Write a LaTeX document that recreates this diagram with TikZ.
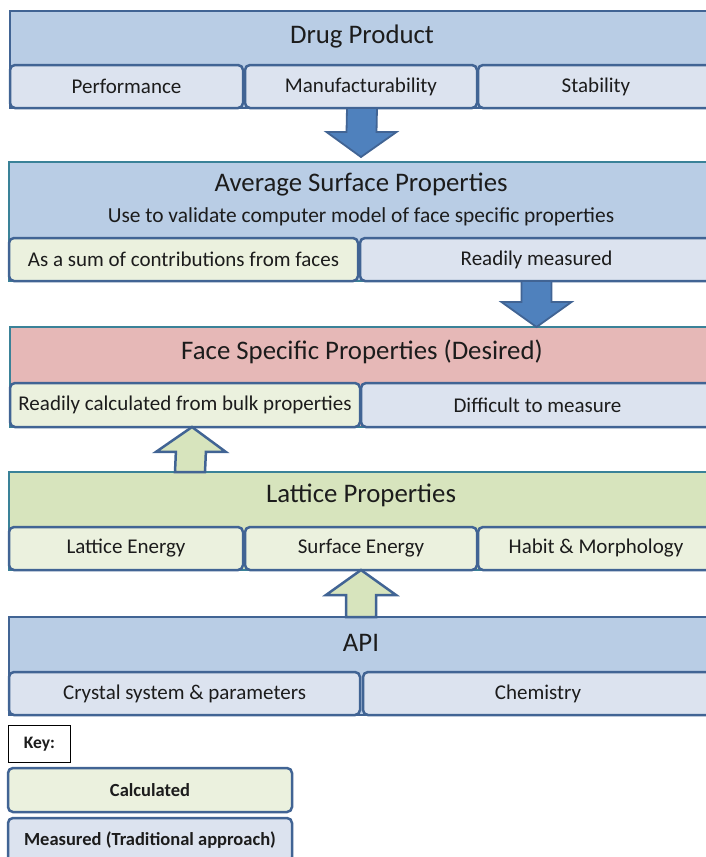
\documentclass[tikz,border=0pt]{standalone}
\usepackage{fontspec}
\setmainfont{Carlito}
\usetikzlibrary{positioning,calc}

\definecolor{hdblue}{RGB}{185,205,229}
\definecolor{subblue}{RGB}{220,227,239}
\definecolor{hdgreen}{RGB}{215,228,189}
\definecolor{subgreen}{RGB}{235,241,222}
\definecolor{hdpink}{RGB}{230,184,183}
\definecolor{edgeblue}{RGB}{65,100,148}
\definecolor{edgeteal}{RGB}{58,130,152}
\definecolor{arrowblue}{RGB}{79,129,189}
\definecolor{ink}{RGB}{28,28,28}

\tikzstyle{block}=[draw=edgeteal,line width=2pt,minimum width=704pt,anchor=north west,inner sep=0pt,outer sep=0pt]
\tikzstyle{sub}=[draw=edgeblue,line width=2.5pt,rounded corners=5pt,minimum height=43pt,inner sep=0pt,outer sep=0pt,text=ink,font=\fontsize{21}{24}\selectfont]
\tikzstyle{calcbox}=[sub,fill=subgreen]
\tikzstyle{measbox}=[sub,fill=subblue]
\tikzstyle{title}=[text=ink,font=\fontsize{26.8}{30}\selectfont]
\tikzstyle{keytext}=[font=\bfseries\fontsize{18.5}{22}\selectfont]
\tikzstyle{down}=[draw=edgeblue,fill=arrowblue,line width=1.8pt,line join=miter]
\tikzstyle{up}=[draw=edgeblue,fill=hdgreen,line width=2.5pt,line join=miter]

% fat block arrow: style, base, tip
\newcommand{\fatarrow}[3]{%
  \path (#2) coordinate (fa-b) (#3) coordinate (fa-t) ($(fa-t)!25pt!(fa-b)$) coordinate (fa-h);
  \draw[#1] ($(fa-b)+(-15,0)$) -- ($(fa-h)+(-15,0)$) -- ($(fa-h)+(-35,0)$) -- (fa-t)
    -- ($(fa-h)+(35,0)$) -- ($(fa-h)+(15,0)$) -- ($(fa-b)+(15,0)$) -- cycle;}

\begin{document}
\begin{tikzpicture}[x=1pt,y=-1pt]
\path[use as bounding box,clip] (0,0) rectangle (706,857);

% drug product
\node[block,draw=edgeblue,fill=hdblue,minimum height=97pt] (dp) at (10,11) {};
\node[title] (dpt) at ($(dp.north)+(0,25)$) {Drug Product};
\node[measbox,minimum width=233pt,anchor=south west] (perf) at (dp.south west) {Performance};
\node[measbox,minimum width=232pt,right=2pt of perf] (manu) {Manufacturability};
\node[measbox,minimum width=236pt,right=1pt of manu] (stab) {Stability};

% average surface properties
\node[block,fill=hdblue,minimum height=119pt] (asp) at (9,162) {};
\node[title] (aspt) at ($(asp.north)+(0,23)$) {Average Surface Properties};
\node[text=ink,font=\fontsize{21.4}{24}\selectfont] (asps) at ($(asp.north)+(0,55)$) {Use to validate computer model of face specific properties};
\node[calcbox,minimum width=349pt,anchor=south west] (sum) at (asp.south west) {As a sum of contributions from faces};
\node[measbox,minimum width=353pt,right=2pt of sum] (rm) {Readily measured};

% face specific properties
\node[block,fill=hdpink,minimum height=100pt] (fsp) at (10,327) {};
\node[title] (fspt) at ($(fsp.north)+(0,25)$) {Face Specific Properties (Desired)};
\node[calcbox,minimum width=350pt,minimum height=44pt,anchor=south west] (rc) at (fsp.south west) {Readily calculated from bulk properties};
\node[measbox,minimum width=353pt,minimum height=44pt,right=1pt of rc] (dm) {Difficult to measure};

% lattice properties
\node[block,fill=hdgreen,minimum height=98pt] (lat) at (9,472) {};
\node[title] (latt) at ($(lat.north)+(0,23)$) {Lattice Properties};
\node[calcbox,minimum width=234pt,anchor=south west] (le) at (lat.south west) {Lattice Energy};
\node[calcbox,minimum width=232pt,right=2pt of le] (se) {Surface Energy};
\node[calcbox,minimum width=236pt,right=1pt of se] (hm) {Habit \& Morphology};

% api
\node[block,draw=edgeblue,fill=hdblue,minimum height=98pt] (api) at (9,617) {};
\node[title] (apit) at ($(api.north)+(0,26)$) {API};
\node[measbox,minimum width=351pt,anchor=south west] (cs) at (api.south west) {Crystal system \& parameters};
\node[measbox,minimum width=350pt,right=3pt of cs] (chem) {Chemistry};

% arrows between the layers
\fatarrow{down}{dp.south}{$(asp.north)+(0,-5)$}
\fatarrow{down}{rm.south}{fsp.north -| rm.south}
\fatarrow{up}{lat.north -| 190,0}{$(rc.south)+(7,0)$}
\fatarrow{up}{api.north}{lat.south}

% key
\node[draw=black,line width=1pt,fill=white,minimum width=62pt,minimum height=37pt,anchor=north west,inner sep=0pt,text=ink,font=\bfseries\fontsize{17.5}{20}\selectfont] (key) at (8,725) {Key:};
\node[calcbox,minimum width=284pt,minimum height=44pt,anchor=north west,keytext] (kcalc) at (8,768) {Calculated};
\node[measbox,minimum width=284pt,minimum height=44pt,anchor=north west,keytext] (kmeas) at (8,818) {Measured (Traditional approach)};
\end{tikzpicture}
\end{document}
